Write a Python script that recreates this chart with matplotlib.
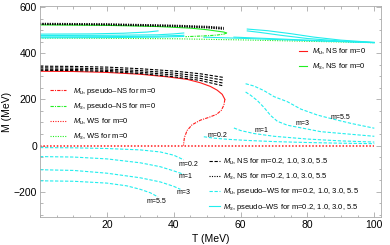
import matplotlib
matplotlib.use("Agg")
import matplotlib.pyplot as plt
from matplotlib.lines import Line2D

plt.rcParams['font.family'] = ['Liberation Sans', 'DejaVu Sans']
plt.rcParams['mathtext.fontset'] = 'custom'
plt.rcParams['mathtext.rm'] = 'Liberation Sans'
plt.rcParams['mathtext.it'] = 'Liberation Sans:italic'

RED = '#ff1a1a'
GREEN = '#22ee22'
CYAN = '#22eeee'
masses = ['0.2', '1', '3', '5.5']

# --- m = 0 ---
# M_u, NS (upper branch) and pseudo-NS (lower branch)
T_u_ns0 = [0, 10, 20, 30, 38, 44, 48, 51, 53, 54.5, 55.3]
M_u_ns0 = [322, 321, 317, 309, 298, 287, 272, 256, 240, 222, 200]
T_u_pns0 = [55.3, 55.0, 54.2, 52.8, 50.5, 48, 45.5, 44, 43.2, 42.9]
M_u_pns0 = [200, 175, 152, 135, 122, 110, 90, 65, 35, 0]
T_u_ws0 = [0, 100]
M_u_ws0 = [0, 0]
# M_s
T_s_ns0 = [0, 20, 35, 45, 50, 53, 55, 55.8]
M_s_ns0 = [523, 521, 516, 509, 502, 496, 492, 488]
T_s_pns0 = [55.8, 55, 53, 50, 47, 43.5]
M_s_pns0 = [488, 483, 479, 476, 474, 472]
T_s_ws0 = [0, 20, 40, 60, 80, 100]
M_s_ws0 = [466, 465, 463, 458, 452, 446]

# --- m = 0.2, 1, 3, 5.5 ---
T_u_ns = [0, 10, 20, 30, 40, 48, 55]
M_u_ns = [[326, 325, 321, 312, 298, 282, 258],
          [331, 330, 326, 318, 306, 291, 270],
          [337, 336, 332, 325, 314, 301, 283],
          [344, 343, 340, 333, 323, 311, 295]]
T_s_ns = [0, 20, 40, 50, 55]
M_s_ns = [[525, 523, 516, 510, 504],
          [526, 524, 518, 512, 506],
          [528, 526, 520, 514, 509],
          [530, 528, 522, 517, 512]]

# pseudo-WS, low-T branches
T_u_pws_lo = [[0, 10, 20, 30, 36, 40, 43],
              [0, 10, 20, 30, 36, 40, 43],
              [0, 10, 20, 30, 36, 40, 42],
              [0, 10, 20, 26, 30, 33, 35.3]]
M_u_pws_lo = [[-9, -10, -13, -19, -28, -42, -62],
              [-48, -50, -58, -75, -92, -110, -125],
              [-105, -108, -120, -140, -158, -177, -190],
              [-153, -155, -163, -175, -190, -205, -223]]
T_s_pws_lo = [[0, 20, 35, 43],
              [0, 20, 35, 43],
              [0, 20, 35, 40, 43],
              [0, 15, 25, 32, 35.3]]
M_s_pws_lo = [[467, 468, 470, 473],
              [471, 472, 474, 478],
              [477, 478, 480, 484, 488],
              [483, 484, 487, 492, 497]]

# pseudo-WS, high-T branches
T_u_pws_hi = [[49, 52, 56, 62, 70, 80, 90, 100],
              [58, 60, 64, 70, 80, 90, 100],
              [61.5, 63, 65, 67, 69, 71, 74, 84, 100],
              [61.5, 64, 67, 70, 74, 78, 83, 87, 93, 100]]
M_u_pws_hi = [[38, 32, 27, 22, 17, 13, 10, 8],
              [76, 65, 52, 40, 28, 20, 15],
              [232, 218, 195, 165, 130, 105, 88, 60, 40],
              [268, 258, 238, 212, 190, 158, 132, 117, 96, 75]]
T_s_pws_hi = [[49, 60, 80, 100],
              [58, 70, 85, 100],
              [62, 66, 72, 80, 90, 100],
              [62, 68, 75, 82, 90, 100]]
M_s_pws_hi = [[470, 465, 455, 446],
              [470, 463, 454, 447],
              [497, 490, 478, 464, 453, 446],
              [505, 498, 485, 470, 457, 447]]

fig = plt.figure(figsize=(3.9, 2.45), dpi=100)
ax = fig.add_axes([40 / 390, 1 - 217 / 245, 341 / 390, 211 / 245])

lw = 0.8
dash = (3, 1.5)
dot = (1, 1.2)
dashdot = (3, 1, 1, 1)

ax.plot(T_u_ws0, M_u_ws0, color=RED, lw=1.1, dashes=dot)
ax.plot(T_s_ws0, M_s_ws0, color=GREEN, lw=lw, dashes=dot)

for i in range(4):
    ax.plot(T_s_pws_lo[i], M_s_pws_lo[i], color=CYAN, lw=lw)
    ax.plot(T_s_pws_hi[i], M_s_pws_hi[i], color=CYAN, lw=lw)
    ax.plot(T_u_pws_lo[i], M_u_pws_lo[i], color=CYAN, lw=lw, dashes=dash)
    ax.plot(T_u_pws_hi[i], M_u_pws_hi[i], color=CYAN, lw=lw, dashes=dash)

ax.plot(T_u_ns0, M_u_ns0, color=RED, lw=lw)
ax.plot(T_u_pns0, M_u_pns0, color=RED, lw=lw, dashes=dashdot)
ax.plot(T_s_ns0, M_s_ns0, color=GREEN, lw=lw)
ax.plot(T_s_pns0, M_s_pns0, color=GREEN, lw=lw, dashes=dashdot)

for i in range(4):
    ax.plot(T_u_ns, M_u_ns[i], color='black', lw=lw, dashes=dash)
    ax.plot(T_s_ns, M_s_ns[i], color='black', lw=lw, dashes=dot)

# curve labels
lab_lo = [(44.3, -84), (43.4, -135), (42.8, -204), (34.7, -243)]
lab_hi = [(53.2, 45), (66.1, 67), (78.4, 97), (90.0, 123)]
for m, p, q in zip(masses, lab_lo, lab_hi):
    ax.text(p[0], p[1], 'm=' + m, fontsize=5, ha='center', va='center')
    ax.text(q[0], q[1], 'm=' + m, fontsize=5, ha='center', va='center')

ax.set_xlim(0, 102)
ax.set_ylim(-310, 605)
ax.set_xticks([20, 40, 60, 80, 100])
ax.set_yticks([-200, 0, 200, 400, 600])
ax.set_xticks(range(0, 101, 5), minor=True)
ax.set_yticks(range(-300, 601, 50), minor=True)
ax.tick_params(which='both', direction='in', top=True, right=True,
               color='#999999', width=0.5, labelsize=7.5, pad=2)
ax.tick_params(which='major', length=3.5)
ax.tick_params(which='minor', length=1.8)
for s in ax.spines.values():
    s.set_color('#aaaaaa')
    s.set_linewidth(0.6)
ax.set_xlabel('T (MeV)', fontsize=7.5, labelpad=3)
ax.set_ylabel('M (MeV)', fontsize=7.5, labelpad=1)

leg_kw = dict(frameon=False, fontsize=5.5, borderpad=0, borderaxespad=0,
              labelspacing=0.58, loc='upper left', bbox_transform=fig.transFigure)

h1 = [Line2D([], [], color=RED, lw=lw, dashes=dashdot),
      Line2D([], [], color=GREEN, lw=lw, dashes=dashdot),
      Line2D([], [], color=RED, lw=lw, dashes=dot),
      Line2D([], [], color=GREEN, lw=lw, dashes=dot)]
l1 = ax.legend(h1, ['$M_u$, pseudo–NS for m=0', '$M_s$, pseudo–NS for m=0',
                    '$M_u$, WS for m=0', '$M_s$, WS for m=0'],
               bbox_to_anchor=(50 / 390, 1 - 86 / 245), handlelength=2.1,
               handletextpad=0.9, **leg_kw)
ax.add_artist(l1)

h2 = [Line2D([], [], color=RED, lw=lw), Line2D([], [], color=GREEN, lw=lw)]
l2 = ax.legend(h2, ['$M_u$, NS for m=0', '$M_s$, NS for m=0'],
               bbox_to_anchor=(299 / 390, 1 - 47 / 245), handlelength=1.05,
               handletextpad=0.65, **leg_kw)
ax.add_artist(l2)

mlist = 'm=0.2, 1.0, 3.0, 5.5'
h3 = [Line2D([], [], color='black', lw=lw, dashes=dash),
      Line2D([], [], color='black', lw=lw, dashes=dot),
      Line2D([], [], color=CYAN, lw=lw, dashes=dash),
      Line2D([], [], color=CYAN, lw=lw)]
ax.legend(h3, ['$M_u$, NS for ' + mlist, '$M_s$, NS for ' + mlist,
               '$M_u$, pseudo–WS for ' + mlist, '$M_s$, pseudo–WS for ' + mlist],
          bbox_to_anchor=(209 / 390, 1 - 157 / 245), handlelength=1.45,
          handletextpad=0.35, **leg_kw)

fig.savefig('out.png', dpi=100)
